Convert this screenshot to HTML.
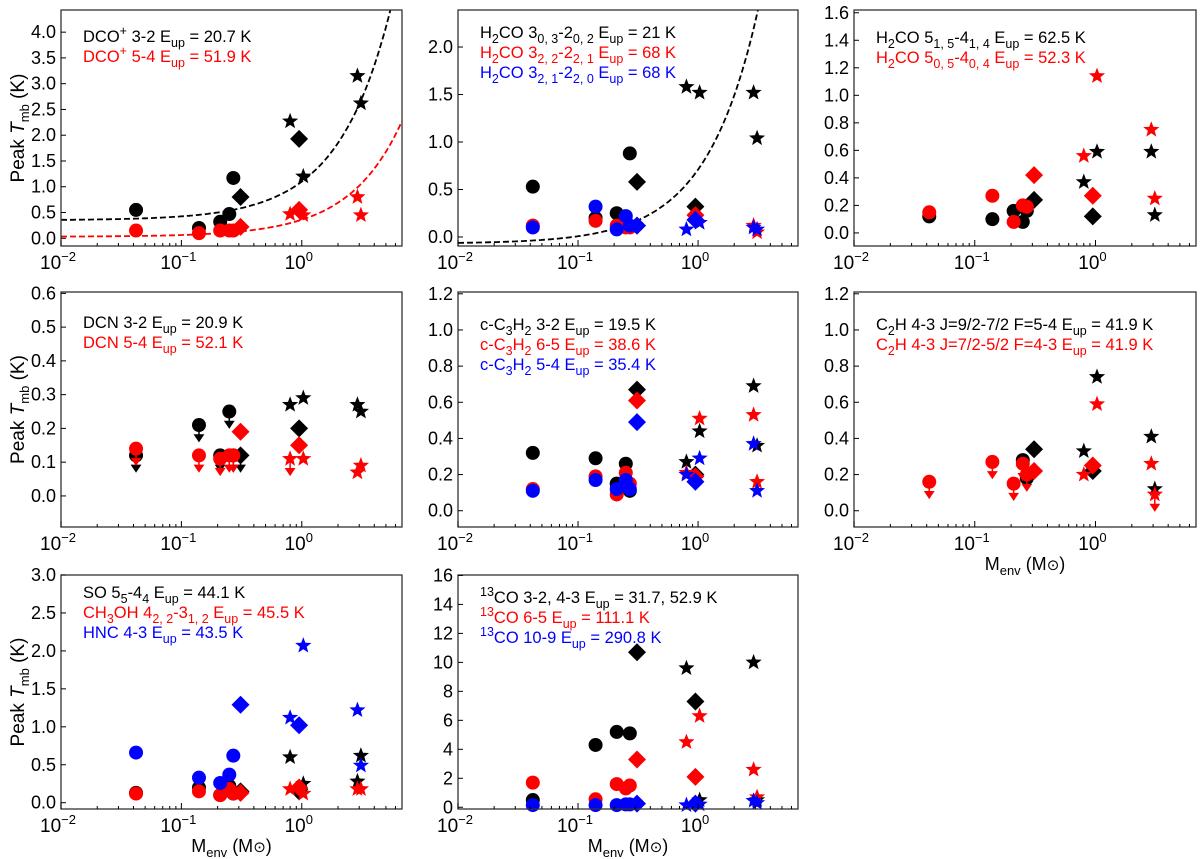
<!DOCTYPE html>
<html><head><meta charset="utf-8">
<style>
html,body{margin:0;padding:0;background:#fff;}
svg{display:block;font-family:"Liberation Sans","DejaVu Sans",sans-serif;}
</style></head>
<body>
<svg id="fig" width="1200" height="859" viewBox="0 0 1200 859" xmlns="http://www.w3.org/2000/svg"></svg>
<script>
// shared source masses (M_env) and marker shapes
const masses = [0.042, 0.14, 0.21, 0.25, 0.27, 0.31, 0.80, 0.95, 1.03, 2.9, 3.1];
const shapes = ['o','o','o','o','o','d','s','d','s','s','s'];
const xTickLabels = ['-2','-1','0'];

// panel 1 DCO+
const p1Black = [0.55,0.2,0.32,0.47,1.17,0.8,2.27,1.93,1.2,3.15,2.62];
const p1Red = [0.15,0.1,0.15,0.15,0.15,0.22,0.47,0.55,0.45,0.8,0.45];
const p1BlackFit = [0.35,0.75];
const p1RedFit = [0.03,0.33];
// panel 2 H2CO 3-2
const p2Black = [0.53,0.2,0.25,null,0.88,0.58,1.58,0.32,1.52,1.52,1.04];
const p2Red = [0.12,0.17,0.12,0.1,0.1,0.12,null,0.23,0.15,0.12,0.05];
const p2Blue = [0.1,0.32,0.08,0.22,0.12,0.12,0.08,0.18,0.15,0.1,0.08];
const p2BlackFit = [-0.07,0.78];
// panel 3 H2CO 5-4
const p3Black = [0.12,0.1,0.16,0.08,0.16,0.24,0.37,0.12,0.59,0.59,0.13];
const p3Red = [0.15,0.27,0.08,0.2,0.19,0.42,0.56,0.27,1.14,0.75,0.25];
// panel 4 DCN
const p4Black = [0.12,0.21,0.12,0.25,0.12,0.12,0.27,0.2,0.29,0.27,0.25];
const p4Red = [0.14,0.12,0.11,0.12,0.12,0.19,0.11,0.15,0.11,0.07,0.09];
const p4BlackUp = [1,1,1,1,1,1,0,0,0,0,0];
const p4RedUp = [1,1,1,1,1,0,1,0,0,0,0];
// panel 5 c-C3H2
const p5Black = [0.32,0.29,0.15,0.26,0.11,0.67,0.27,0.2,0.44,0.69,0.36];
const p5Red = [0.12,0.19,0.09,0.21,0.15,0.61,0.21,0.19,0.51,0.53,0.16];
const p5Blue = [0.11,0.17,0.12,0.17,0.12,0.49,0.2,0.16,0.29,0.37,0.11];
// panel 6 C2H
const p6Black = [null,null,null,0.28,0.18,0.34,0.33,0.22,0.74,0.41,0.12];
const p6Red = [0.16,0.27,0.15,0.26,0.2,0.22,0.2,0.25,0.59,0.26,0.09];
const p6RedUp = [1,1,1,1,1,0,0,0,0,0,1];
// panel 7 SO / CH3OH / HNC
const p7Black = [0.13,0.2,0.1,0.22,0.12,0.15,0.6,0.15,0.25,0.28,0.62];
const p7Red = [0.12,0.15,0.1,0.18,0.12,0.13,0.18,0.2,0.12,0.18,0.18];
const p7Blue = [0.66,0.33,0.26,0.37,0.62,1.29,1.12,1.02,2.07,1.22,0.49];
// panel 8 13CO
const p8Black = [0.5,4.3,5.2,null,5.1,10.7,9.6,7.3,0.5,10.0,0.5];
const p8Red = [1.7,0.55,1.6,1.3,1.5,3.3,4.5,2.1,6.3,2.6,0.7];
const p8Blue = [0.15,0.15,0.15,0.2,0.2,0.25,0.15,0.25,0.2,0.45,0.3];

const NS='http://www.w3.org/2000/svg';
const svg=document.getElementById('fig');
function el(tag,attrs,parent){const e=document.createElementNS(NS,tag);for(const k in attrs)e.setAttribute(k,attrs[k]);(parent||svg).appendChild(e);return e;}

const cols=[[61,402],[458,798],[854,1196]];
const rows=[[10,246],[292,527],[575,809]];
const XMIN=Math.log10(0.01), XMAX=Math.log10(6.8);

const panels=[
 {c:0,r:0,ylim:[-0.15,4.43],ticks:[0,0.5,1,1.5,2,2.5,3,3.5,4],fmt:1,ylab:true,
  series:[{v:p1Black,col:'#000'},{v:p1Red,col:'#f00'}],fits:[{p:p1BlackFit,col:'#000'},{p:p1RedFit,col:'#f00'}],
  legend:[[{t:'DCO'},{t:'+',sup:1},{t:' 3-2 E'},{t:'up',sub:1},{t:' = 20.7 K'}],[{t:'DCO'},{t:'+',sup:1},{t:' 5-4 E'},{t:'up',sub:1},{t:' = 51.9 K'}]],lcol:['#000','#f00'],ly:42},
 {c:1,r:0,ylim:[-0.095,2.39],ticks:[0,0.5,1,1.5,2],fmt:1,
  series:[{v:p2Black,col:'#000'},{v:p2Red,col:'#f00'},{v:p2Blue,col:'#00f'}],fits:[{p:p2BlackFit,col:'#000'}],
  legend:[[{t:'H'},{t:'2',sub:1},{t:'CO 3'},{t:'0, 3',sub:1},{t:'-2'},{t:'0, 2',sub:1},{t:' E'},{t:'up',sub:1},{t:' = 21 K'}],
          [{t:'H'},{t:'2',sub:1},{t:'CO 3'},{t:'2, 2',sub:1},{t:'-2'},{t:'2, 1',sub:1},{t:' E'},{t:'up',sub:1},{t:' = 68 K'}],
          [{t:'H'},{t:'2',sub:1},{t:'CO 3'},{t:'2, 1',sub:1},{t:'-2'},{t:'2, 0',sub:1},{t:' E'},{t:'up',sub:1},{t:' = 68 K'}]],lcol:['#000','#f00','#00f'],ly:38},
 {c:2,r:0,ylim:[-0.095,1.62],ticks:[0,0.2,0.4,0.6,0.8,1,1.2,1.4,1.6],fmt:1,
  series:[{v:p3Black,col:'#000'},{v:p3Red,col:'#f00'}],fits:[],
  legend:[[{t:'H'},{t:'2',sub:1},{t:'CO 5'},{t:'1, 5',sub:1},{t:'-4'},{t:'1, 4',sub:1},{t:' E'},{t:'up',sub:1},{t:' = 62.5 K'}],
          [{t:'H'},{t:'2',sub:1},{t:'CO 5'},{t:'0, 5',sub:1},{t:'-4'},{t:'0, 4',sub:1},{t:' E'},{t:'up',sub:1},{t:' = 52.3 K'}]],lcol:['#000','#f00'],ly:43},
 {c:0,r:1,ylim:[-0.092,0.604],ticks:[0,0.1,0.2,0.3,0.4,0.5,0.6],fmt:1,ylab:true,
  series:[{v:p4Black,col:'#000',up:p4BlackUp},{v:p4Red,col:'#f00',up:p4RedUp}],fits:[],
  legend:[[{t:'DCN 3-2 E'},{t:'up',sub:1},{t:' = 20.9 K'}],[{t:'DCN 5-4 E'},{t:'up',sub:1},{t:' = 52.1 K'}]],lcol:['#000','#f00'],ly:328},
 {c:1,r:1,ylim:[-0.09,1.21],ticks:[0,0.2,0.4,0.6,0.8,1,1.2],fmt:1,
  series:[{v:p5Black,col:'#000'},{v:p5Red,col:'#f00'},{v:p5Blue,col:'#00f'}],fits:[],
  legend:[[{t:'c-C'},{t:'3',sub:1},{t:'H'},{t:'2',sub:1},{t:' 3-2 E'},{t:'up',sub:1},{t:' = 19.5 K'}],
          [{t:'c-C'},{t:'3',sub:1},{t:'H'},{t:'2',sub:1},{t:' 6-5 E'},{t:'up',sub:1},{t:' = 38.6 K'}],
          [{t:'c-C'},{t:'3',sub:1},{t:'H'},{t:'2',sub:1},{t:' 5-4 E'},{t:'up',sub:1},{t:' = 35.4 K'}]],lcol:['#000','#f00','#00f'],ly:330},
 {c:2,r:1,ylim:[-0.09,1.21],ticks:[0,0.2,0.4,0.6,0.8,1,1.2],fmt:1,xlab:true,
  series:[{v:p6Black,col:'#000'},{v:p6Red,col:'#f00',up:p6RedUp}],fits:[],
  legend:[[{t:'C'},{t:'2',sub:1},{t:'H 4-3 J=9/2-7/2 F=5-4 E'},{t:'up',sub:1},{t:' = 41.9 K'}],
          [{t:'C'},{t:'2',sub:1},{t:'H 4-3 J=7/2-5/2 F=4-3 E'},{t:'up',sub:1},{t:' = 41.9 K'}]],lcol:['#000','#f00'],ly:330},
 {c:0,r:2,ylim:[-0.083,3.0],ticks:[0,0.5,1,1.5,2,2.5,3],fmt:1,ylab:true,xlab:true,
  series:[{v:p7Black,col:'#000'},{v:p7Red,col:'#f00'},{v:p7Blue,col:'#00f'}],fits:[],
  legend:[[{t:'SO 5'},{t:'5',sub:1},{t:'-4'},{t:'4',sub:1},{t:' E'},{t:'up',sub:1},{t:' = 44.1 K'}],
          [{t:'CH'},{t:'3',sub:1},{t:'OH 4'},{t:'2, 2',sub:1},{t:'-3'},{t:'1, 2',sub:1},{t:' E'},{t:'up',sub:1},{t:' = 45.5 K'}],
          [{t:'HNC 4-3 E'},{t:'up',sub:1},{t:' = 43.5 K'}]],lcol:['#000','#f00','#00f'],ly:598},
 {c:1,r:2,ylim:[-0.12,16.03],ticks:[0,2,4,6,8,10,12,14,16],fmt:0,xlab:true,
  series:[{v:p8Black,col:'#000'},{v:p8Red,col:'#f00'},{v:p8Blue,col:'#00f'}],fits:[],
  legend:[[{t:'13',sup:1},{t:'CO 3-2, 4-3 E'},{t:'up',sub:1},{t:' = 31.7, 52.9 K'}],
          [{t:'13',sup:1},{t:'CO 6-5 E'},{t:'up',sub:1},{t:' = 111.1 K'}],
          [{t:'13',sup:1},{t:'CO 10-9 E'},{t:'up',sub:1},{t:' = 290.8 K'}]],lcol:['#000','#f00','#00f'],ly:603}
];

function marker(g,shape,x,y,col){
  let m;
  if(shape==='o'){m=el('circle',{cx:x,cy:y,r:7,fill:col},g);}
  else if(shape==='d'){m=el('polygon',{points:`${x},${y-9} ${x+9},${y} ${x},${y+9} ${x-9},${y}`,fill:col},g);}
  else{let p=[];for(let i=0;i<10;i++){const a=-Math.PI/2+i*Math.PI/5;const rr=i%2?3.6:8.5;p.push((x+rr*Math.cos(a)).toFixed(1)+','+(y+rr*Math.sin(a)).toFixed(1));}
    m=el('polygon',{points:p.join(' '),fill:col},g);}
  
  
}

panels.forEach((P,pi)=>{
  const [x0,x1]=cols[P.c],[y0,y1]=rows[P.r];
  const g=el('g',{});
  
  
  const X=m=>x0+(Math.log10(m)-XMIN)/(XMAX-XMIN)*(x1-x0);
  const Y=v=>y1-(v-P.ylim[0])/(P.ylim[1]-P.ylim[0])*(y1-y0);
  const clip='clip'+pi;
  const cp=el('clipPath',{id:clip},g);el('rect',{x:x0,y:y0,width:x1-x0,height:y1-y0},cp);
  P.fits.forEach(f=>{
    let d='';for(let i=0;i<=200;i++){const lm=XMIN+(XMAX-XMIN)*i/200;const m=Math.pow(10,lm);d+=(i?'L':'M')+X(m).toFixed(1)+','+Y(f.p[0]+f.p[1]*m).toFixed(1);}
    const pa=el('path',{d:d,fill:'none',stroke:f.col,'stroke-width':1.8,'stroke-dasharray':'6,3','clip-path':`url(#${clip})`},g);
    
    
  });
  P.series.forEach(s=>{
    s.v.forEach((v,i)=>{
      if(v===null)return;
      const x=X(masses[i]),y=Y(v);
      if(s.up&&s.up[i]){
        const a=el('path',{d:`M${x},${y} L${x},${y+14} M${x-4},${y+10} L${x},${y+16} L${x+4},${y+10} Z`,stroke:s.col,fill:s.col,'stroke-width':1.5},g);
        
        
      }
      marker(g,shapes[i],x,y,s.col);
    });
  });
  const fr=el('rect',{x:x0,y:y0,width:x1-x0,height:y1-y0,fill:'none',stroke:'#333','stroke-width':1.3},g);
  
  
  P.ticks.forEach(t=>{
    const y=Y(t);
    el('line',{x1:x0,x2:x0+5,y1:y,y2:y,stroke:'#000','stroke-width':1},g);
    const tx=el('text',{x:x0-5,y:y+6,'text-anchor':'end','font-size':18,fill:'#000'},g);
    tx.textContent=P.fmt?t.toFixed(1):String(t);
    
    
  });
  for(let e=-2;e<=0;e++){
    for(let k=1;k<=9;k++){
      const m=k*Math.pow(10,e);if(Math.log10(m)>XMAX)break;
      const x=X(m);el('line',{x1:x,x2:x,y1:y1,y2:y1-(k===1?6:3),stroke:'#000','stroke-width':1},g);
    }
  }
  xTickLabels.forEach(l=>{
    const x=X(Math.pow(10,+l));
    const tx=el('text',{x:x-3,y:y1+23,'text-anchor':'middle','font-size':19,fill:'#000'},g);
    
    
    tx.innerHTML='10<tspan dy="-8" font-size="13">'+(l==='0'?'0':'\u2212'+l.slice(1))+'</tspan>';
  });
  P.legend.forEach((parts,li)=>{
    const tx=el('text',{x:x0+22,y:P.ly+li*20,'font-size':16.5,fill:P.lcol[li]},g);
    
    
    let h='',off=0;
    parts.forEach(p=>{
      let target=p.sub?5:(p.sup?-7:0);
      const dy=target-off;off=target;
      const fs=(p.sub||p.sup)?' font-size="12.5"':'';
      h+=`<tspan dy="${dy}"${fs}>${p.t}</tspan>`;
    });
    tx.innerHTML=h;
  });
  if(P.ylab){
    const cy=(y0+y1)/2;
    const tx=el('text',{x:0,y:0,transform:`translate(24,${cy}) rotate(-90)`,'text-anchor':'middle','font-size':19,fill:'#000'},g);
    
    
    tx.innerHTML='Peak <tspan font-style="italic">T</tspan><tspan dy="5" font-size="13">mb</tspan><tspan dy="-5"> (K)</tspan>';
  }
  if(P.xlab){
    const tx=el('text',{x:(x0+x1)/2,y:y1+43,'text-anchor':'middle','font-size':18,fill:'#000'},g);
    
    
    tx.innerHTML='M<tspan dy="5" font-size="13">env</tspan><tspan dy="-5"> (M</tspan><tspan font-size="15">\u2299</tspan><tspan>)</tspan>';
  }
});
</script>
</body></html>
